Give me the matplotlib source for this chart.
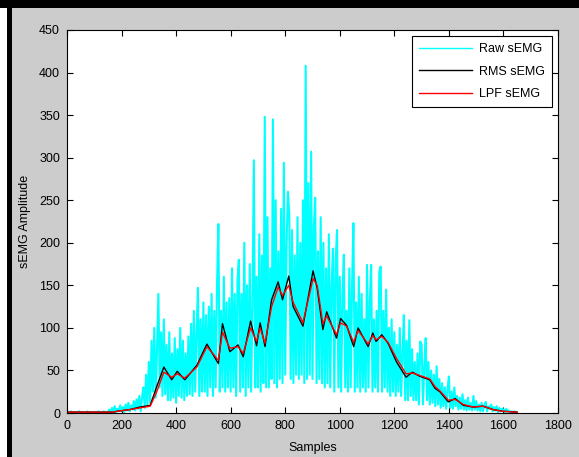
import numpy as np
import matplotlib
matplotlib.use("Agg")
import matplotlib.pyplot as plt
from matplotlib.patches import Rectangle

plt.rcParams['font.family'] = ['Liberation Sans', 'DejaVu Sans']

# raw sEMG, one value every 5 samples (peaks / troughs)
raw_step = 5
raw_semg = [
    0, 1, 0, 2, 0, 1, 0, 1, 0, 2,
    0, 1, 0, 1, 0, 2, 0, 1, 0, 1,
    0, 1, 0, 2, 0, 1, 0, 2, 0, 1,
    1, 4, 0, 6, 2, 8, 1, 5, 3, 9,
    2, 7, 1, 10, 3, 12, 2, 9, 4, 14,
    3, 16, 5, 20, 2, 18, 30, 6, 45, 10,
    60, 12, 85, 25, 100, 18, 75, 140, 30, 95,
    20, 110, 22, 80, 15, 95, 15, 70, 18, 88,
    12, 75, 20, 100, 18, 85, 15, 70, 20, 90,
    22, 105, 20, 120, 25, 95, 147, 20, 110, 25,
    130, 25, 115, 20, 125, 30, 140, 20, 120, 30,
    150, 222, 25, 120, 30, 160, 25, 130, 30, 135,
    25, 170, 30, 140, 20, 155, 180, 25, 140, 30,
    200, 20, 150, 30, 175, 25, 130, 297, 30, 160,
    30, 210, 25, 185, 35, 348, 30, 230, 30, 170,
    40, 345, 35, 250, 30, 190, 40, 240, 35, 294,
    45, 200, 260, 233, 40, 215, 35, 185, 45, 230,
    40, 200, 45, 250, 35, 408, 40, 270, 45, 307,
    40, 220, 253, 35, 190, 40, 230, 35, 200, 30,
    170, 35, 210, 30, 150, 193, 25, 180, 215, 30,
    160, 25, 140, 186, 30, 120, 25, 170, 30, 150,
    223, 25, 130, 30, 160, 25, 140, 30, 110, 25,
    174, 30, 130, 174, 25, 110, 30, 120, 25, 166,
    172, 25, 120, 30, 145, 25, 100, 20, 110, 25,
    95, 20, 80, 25, 100, 20, 70, 115, 15, 85,
    15, 109, 20, 75, 15, 60, 15, 70, 10, 84,
    80, 10, 55, 88, 15, 60, 10, 50, 12, 45,
    8, 55, 10, 40, 6, 35, 8, 30, 5, 28,
    43, 6, 25, 5, 30, 8, 20, 4, 18, 5,
    22, 4, 15, 3, 18, 4, 12, 3, 20, 4,
    14, 3, 10, 2, 12, 2, 9, 13, 2, 8,
    5, 10, 2, 7, 3, 8, 1, 6, 2, 5,
    4, 1, 5, 2, 3, 1, 2, 0, 2, 1,
]

env_samples = [0, 100, 170, 183, 230, 268, 305, 329, 355, 384, 404, 432, 476,
               513, 555, 570, 597, 627, 646, 673, 695, 708, 726, 750, 774, 790,
               813, 829, 865, 902, 917, 938, 952, 988, 1003, 1025, 1051, 1067,
               1104, 1121, 1133, 1154, 1177, 1208, 1243, 1266, 1294, 1330, 1349,
               1367, 1398, 1423, 1453, 1489, 1525, 1562, 1598, 1650]
rms_semg = [1, 1, 1, 2, 4, 7, 9, 31, 54, 39, 49, 39, 56,
            81, 58, 105, 72, 80, 66, 108, 79, 106, 78, 133, 154, 133,
            161, 125, 102, 167, 147, 98, 119, 88, 111, 103, 78, 100,
            78, 94, 84, 92, 82, 60, 42, 48, 43, 39, 29,
            25, 13, 17, 9, 7, 8, 4, 2, 1]
lpf_semg = [1, 1, 1, 2, 4, 6, 8, 25, 48, 42, 46, 41, 54,
            78, 62, 95, 76, 78, 70, 100, 84, 100, 82, 125, 148, 138,
            150, 130, 106, 158, 150, 105, 114, 92, 106, 102, 83, 97,
            81, 91, 86, 90, 83, 64, 46, 47, 44, 40, 31,
            26, 15, 16, 10, 7, 8, 4, 2, 1]

x_ticks = list(range(0, 1801, 200))
y_ticks = list(range(0, 451, 50))

fig = plt.figure(figsize=(5.79, 4.57), dpi=100, facecolor='#cccccc')
# screenshot frame: white strip + black bars on left/top
fig.patches.append(Rectangle((0, 0), 7 / 579, 1, transform=fig.transFigure,
                             facecolor='white', edgecolor='none'))
fig.patches.append(Rectangle((7 / 579, 0), 5 / 579, 1, transform=fig.transFigure,
                             facecolor='black', edgecolor='none'))
fig.patches.append(Rectangle((0, 1 - 8 / 457), 1, 8 / 457, transform=fig.transFigure,
                             facecolor='black', edgecolor='none'))

ax = fig.add_axes([67 / 579, 1 - 413 / 457, (558 - 67) / 579, (413 - 30) / 457])
ax.set_facecolor('white')

raw_x = np.arange(len(raw_semg)) * raw_step
ax.plot(raw_x, raw_semg, color='#00ffff', lw=1.5, label='Raw sEMG')
ax.plot(env_samples, rms_semg, color='black', lw=1.0, label='RMS sEMG')
ax.plot(env_samples, lpf_semg, color='red', lw=1.0, label='LPF sEMG')

ax.set_xlim(0, 1800)
ax.set_ylim(0, 450)
ax.set_xticks(x_ticks)
ax.set_yticks(y_ticks)
ax.tick_params(direction='in', top=True, right=True, length=4, width=0.8,
               labelsize=9, pad=5)
for s in ax.spines.values():
    s.set_linewidth(0.8)
ax.set_xlabel('Samples', fontsize=9, labelpad=7)
ax.set_ylabel('sEMG Amplitude', fontsize=9, labelpad=6)

leg = ax.legend(loc='upper right', fontsize=9, fancybox=False, framealpha=1,
                edgecolor='black', handlelength=4.2, borderaxespad=0.5,
                labelspacing=0.85, borderpad=0.55, handletextpad=0.6)
leg.get_frame().set_linewidth(0.8)
for h in leg.get_lines():
    h.set_linewidth(1.0)

fig.savefig('out.png', dpi=100, facecolor=fig.get_facecolor())
